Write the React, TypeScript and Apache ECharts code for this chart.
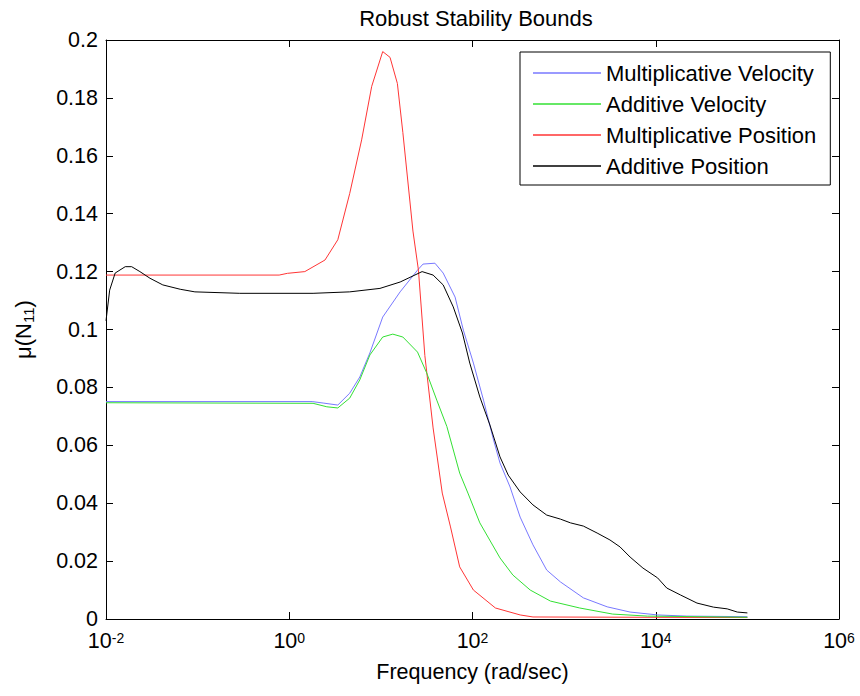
import React, { useEffect, useRef } from "react";
import * as echarts from "echarts";

// Frequencies are stored as log10 exponents (rad/sec), values are mu(N11)
const seriesNames = [
  "Multiplicative Velocity",
  "Additive Velocity",
  "Multiplicative Position",
  "Additive Position",
];
const seriesColors = ["#7878ff", "#33e033", "#ff3535", "#000000"];

const multVelExp = [-2.0, 0.25, 0.37, 0.53, 0.66, 0.77, 0.88, 1.02, 1.21, 1.4, 1.46, 1.59, 1.68, 1.81, 1.9, 2.01, 2.12, 2.23, 2.3, 2.41, 2.52, 2.66, 2.81, 2.96, 3.21, 3.47, 3.72, 4.02, 4.34, 5.0];
const multVelMu = [0.0751, 0.0751, 0.0746, 0.0739, 0.078, 0.0836, 0.0919, 0.1043, 0.113, 0.1205, 0.1226, 0.1229, 0.1195, 0.1112, 0.0998, 0.0884, 0.0756, 0.0618, 0.0539, 0.0456, 0.0352, 0.0256, 0.0169, 0.0128, 0.0073, 0.0042, 0.0024, 0.0014, 0.001, 0.0008];

const addVelExp = [-2.0, 0.26, 0.41, 0.53, 0.66, 0.77, 0.88, 1.02, 1.13, 1.24, 1.4, 1.5, 1.61, 1.72, 1.86, 1.95, 2.08, 2.3, 2.44, 2.63, 2.85, 3.17, 3.53, 3.91, 5.0];
const addVelMu = [0.0747, 0.0745, 0.0733, 0.0729, 0.0763, 0.0826, 0.0912, 0.0974, 0.0984, 0.0974, 0.0922, 0.085, 0.0756, 0.0665, 0.0504, 0.0435, 0.0332, 0.0211, 0.0152, 0.01, 0.0062, 0.0038, 0.0017, 0.001, 0.0006];

const multPosExp = [-2.0, -0.11, -0.02, 0.17, 0.39, 0.53, 0.66, 0.79, 0.9, 1.02, 1.1, 1.18, 1.24, 1.35, 1.41, 1.48, 1.57, 1.67, 1.76, 1.86, 2.01, 2.25, 2.52, 2.66, 5.0];
const multPosMu = [0.1188, 0.1188, 0.1194, 0.12, 0.124, 0.131, 0.147, 0.1655, 0.184, 0.196, 0.194, 0.185, 0.168, 0.134, 0.1205, 0.091, 0.066, 0.0435, 0.0318, 0.018, 0.01, 0.0038, 0.0014, 0.0007, 0.0005];

const addPosExp = [-2.0, -1.96, -1.9, -1.79, -1.72, -1.63, -1.52, -1.38, -1.19, -1.03, -0.54, 0.26, 0.66, 0.99, 1.21, 1.45, 1.57, 1.68, 1.79, 1.89, 1.97, 2.08, 2.19, 2.3, 2.39, 2.52, 2.66, 2.81, 2.96, 3.07, 3.21, 3.36, 3.5, 3.61, 3.72, 3.86, 4.02, 4.12, 4.27, 4.45, 4.63, 4.78, 4.89, 5.0];
const addPosMu = [0.103, 0.1136, 0.1195, 0.1217, 0.1217, 0.12, 0.1177, 0.1154, 0.1139, 0.113, 0.1125, 0.1125, 0.113, 0.1142, 0.1164, 0.12, 0.1188, 0.1154, 0.1078, 0.0988, 0.0884, 0.0767, 0.067, 0.056, 0.0497, 0.0439, 0.0394, 0.0359, 0.0345, 0.0332, 0.0321, 0.0297, 0.0273, 0.0249, 0.0214, 0.0176, 0.0142, 0.0107, 0.0083, 0.0055, 0.0041, 0.0035, 0.0024, 0.0021];

const xExpMin = -2;
const xExpMax = 6;
const xExpStep = 2;
const yMin = 0;
const yMax = 0.2;
const yStep = 0.02;

const titleText = "Robust Stability Bounds";
const xName = "Frequency (rad/sec)";

const FONT = "'Liberation Sans', Arial, Helvetica, sans-serif";

function zip(xs: number[], ys: number[]) {
  return xs.map((x, i) => [x, ys[i]]);
}

export default function App() {
  const ref = useRef<HTMLDivElement>(null);
  useEffect(() => {
    if (!ref.current) return;
    const chart = echarts.init(ref.current, undefined, { renderer: "svg" });
    const data = [
      zip(multVelExp, multVelMu),
      zip(addVelExp, addVelMu),
      zip(multPosExp, multPosMu),
      zip(addPosExp, addPosMu),
    ];
    const grid = { left: 106, right: 21, top: 40, bottom: 77, containLabel: false };
    const tickCommon = { show: true, inside: true, length: 7, lineStyle: { color: "#000", width: 1 } };
    const lineCommon = { show: true, onZero: false, lineStyle: { color: "#000", width: 1 } };
    const option: any = {
      animation: false,
      backgroundColor: "#fff",
      textStyle: { fontFamily: FONT },
      title: {
        text: titleText,
        left: 471,
        top: 2,
        textAlign: "center",
        textStyle: { fontFamily: FONT, fontSize: 22, fontWeight: "normal", color: "#000" },
      },
      legend: {
        orient: "vertical",
        left: 520,
        top: 52,
        padding: [10, 14, 8, 13],
        itemGap: 9,
        itemWidth: 68,
        itemHeight: 1.5,
        icon: "rect",
        backgroundColor: "#fff",
        borderColor: "#000",
        borderWidth: 1,
        borderRadius: 0,
        data: seriesNames,
        textStyle: { fontFamily: FONT, fontSize: 22, lineHeight: 22, color: "#000" },
      },
      grid,
      xAxis: [
        {
          type: "value",
          min: xExpMin,
          max: xExpMax,
          interval: xExpStep,
          position: "bottom",
          name: xName,
          nameLocation: "middle",
          nameGap: 42,
          nameTextStyle: { fontFamily: FONT, fontSize: 21.5, color: "#000" },
          axisLine: lineCommon,
          axisTick: tickCommon,
          splitLine: { show: false },
          axisLabel: {
            margin: 12,
            formatter: (v: number) => `{b|10}{s|${v}}`,
            rich: {
              b: { fontFamily: FONT, fontSize: 21.5, lineHeight: 20, color: "#000" },
              s: { fontFamily: FONT, fontSize: 14, lineHeight: 10, verticalAlign: "top", color: "#000" },
            },
          },
        },
        {
          type: "value",
          min: xExpMin,
          max: xExpMax,
          interval: xExpStep,
          position: "top",
          axisLine: lineCommon,
          axisTick: tickCommon,
          axisLabel: { show: false },
          splitLine: { show: false },
        },
      ],
      yAxis: [
        {
          type: "value",
          min: yMin,
          max: yMax,
          interval: yStep,
          position: "left",
          name: "{m|μ(N}{s|11}{m|)}",
          nameLocation: "middle",
          nameRotate: 90,
          nameGap: 70,
          nameTextStyle: {
            rich: {
              m: { fontFamily: FONT, fontSize: 22, lineHeight: 26, color: "#000" },
              s: { fontFamily: FONT, fontSize: 15, lineHeight: 15, verticalAlign: "bottom", color: "#000" },
            },
          },
          axisLine: lineCommon,
          axisTick: tickCommon,
          splitLine: { show: false },
          axisLabel: {
            margin: 8,
            fontFamily: FONT,
            fontSize: 21.5,
            lineHeight: 16,
            color: "#000",
            formatter: (v: number) => String(parseFloat(v.toFixed(2))),
          },
        },
        {
          type: "value",
          min: yMin,
          max: yMax,
          interval: yStep,
          position: "right",
          axisLine: lineCommon,
          axisTick: tickCommon,
          axisLabel: { show: false },
          splitLine: { show: false },
        },
      ],
      series: seriesNames.map((name, i) => ({
        name,
        type: "line",
        xAxisIndex: 0,
        yAxisIndex: 0,
        data: data[i],
        showSymbol: false,
        symbol: "none",
        smooth: false,
        color: seriesColors[i],
        lineStyle: { color: seriesColors[i], width: 1 },
        z: 2 + (i === 2 ? 0 : i),
      })),
    };
    chart.setOption(option);
    return () => chart.dispose();
  }, []);
  return (
    <div
      ref={ref}
      style={{ position: "fixed", left: 0, top: 0, width: 860, height: 696, background: "#fff" }}
    />
  );
}
